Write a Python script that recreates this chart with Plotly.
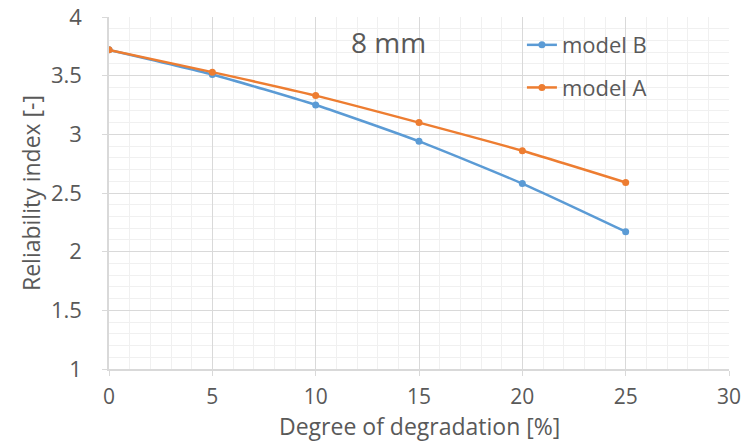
import plotly.graph_objects as go

degradation = [0, 5, 10, 15, 20, 25]
model_b = [3.72, 3.51, 3.25, 2.94, 2.58, 2.17]
model_a = [3.72, 3.53, 3.33, 3.10, 2.86, 2.59]

blue = "#5B9BD5"
orange = "#ED7D31"
txt = "#595959"
font_family = "Open Sans, Liberation Sans, sans-serif"

fig = go.Figure()
fig.add_trace(go.Scatter(x=degradation, y=model_b, name="model B", mode="lines+markers",
                         legendgroup="b",
                         line=dict(color=blue, width=2.5, shape="spline", smoothing=0.6),
                         marker=dict(color=blue, size=7)))
fig.add_trace(go.Scatter(x=degradation, y=model_a, name="model A", mode="lines+markers",
                         legendgroup="a",
                         line=dict(color=orange, width=2.5, shape="spline", smoothing=0.6),
                         marker=dict(color=orange, size=7)))

fig.update_layout(
    width=751, height=441,
    margin=dict(l=109, r=22, t=17, b=72),
    paper_bgcolor="white", plot_bgcolor="white",
    font=dict(family=font_family, color=txt, size=22),
    legend=dict(x=0.666, y=0.98, xanchor="left", yanchor="top",
                bgcolor="rgba(0,0,0,0)", font=dict(size=22, color=txt),
                itemwidth=30, tracegroupgap=11, traceorder="grouped"),
    showlegend=True,
)
fig.update_xaxes(range=[0, 30], dtick=5, showgrid=True, gridcolor="#d9d9d9", gridwidth=1,
                 minor=dict(dtick=1, showgrid=True, gridcolor="#f0f0f0", gridwidth=1),
                 showline=True, linecolor="#d9d9d9", linewidth=1.5, automargin=False,
                 ticks="outside", ticklen=5, tickcolor="#d9d9d9", ticklabelstandoff=3,
                 zeroline=False, tickfont=dict(size=21, color=txt))
fig.update_yaxes(range=[1, 4], dtick=0.5, showgrid=True, gridcolor="#d9d9d9", gridwidth=1,
                 minor=dict(dtick=0.1, showgrid=True, gridcolor="#f0f0f0", gridwidth=1),
                 showline=True, linecolor="#d9d9d9", linewidth=1.5, automargin=False,
                 ticks="outside", ticklen=5, tickcolor="#d9d9d9", ticklabelstandoff=16,
                 zeroline=False, tickfont=dict(size=22, color=txt),
                 title=dict(text="Reliability index [-]", font=dict(size=23, color=txt), standoff=4))
# x-axis title
fig.add_annotation(text="Degree of degradation [%]", x=0.5, y=-0.162, xref="paper", yref="paper",
                   showarrow=False, font=dict(size=23, color=txt), xanchor="center", yanchor="middle")
fig.add_annotation(text="8 mm", x=0.45, y=0.928, xref="paper", yref="paper",
                   showarrow=False, font=dict(size=28, color=txt), xanchor="center", yanchor="middle")
# chart title, mostly cropped off at the top of the picture
fig.add_annotation(text="Degree of degradation [%]", x=0.448, y=1.04, xref="paper", yref="paper",
                   showarrow=False, font=dict(size=23, color=txt), xanchor="center", yanchor="bottom")

fig.write_html("out.html")
